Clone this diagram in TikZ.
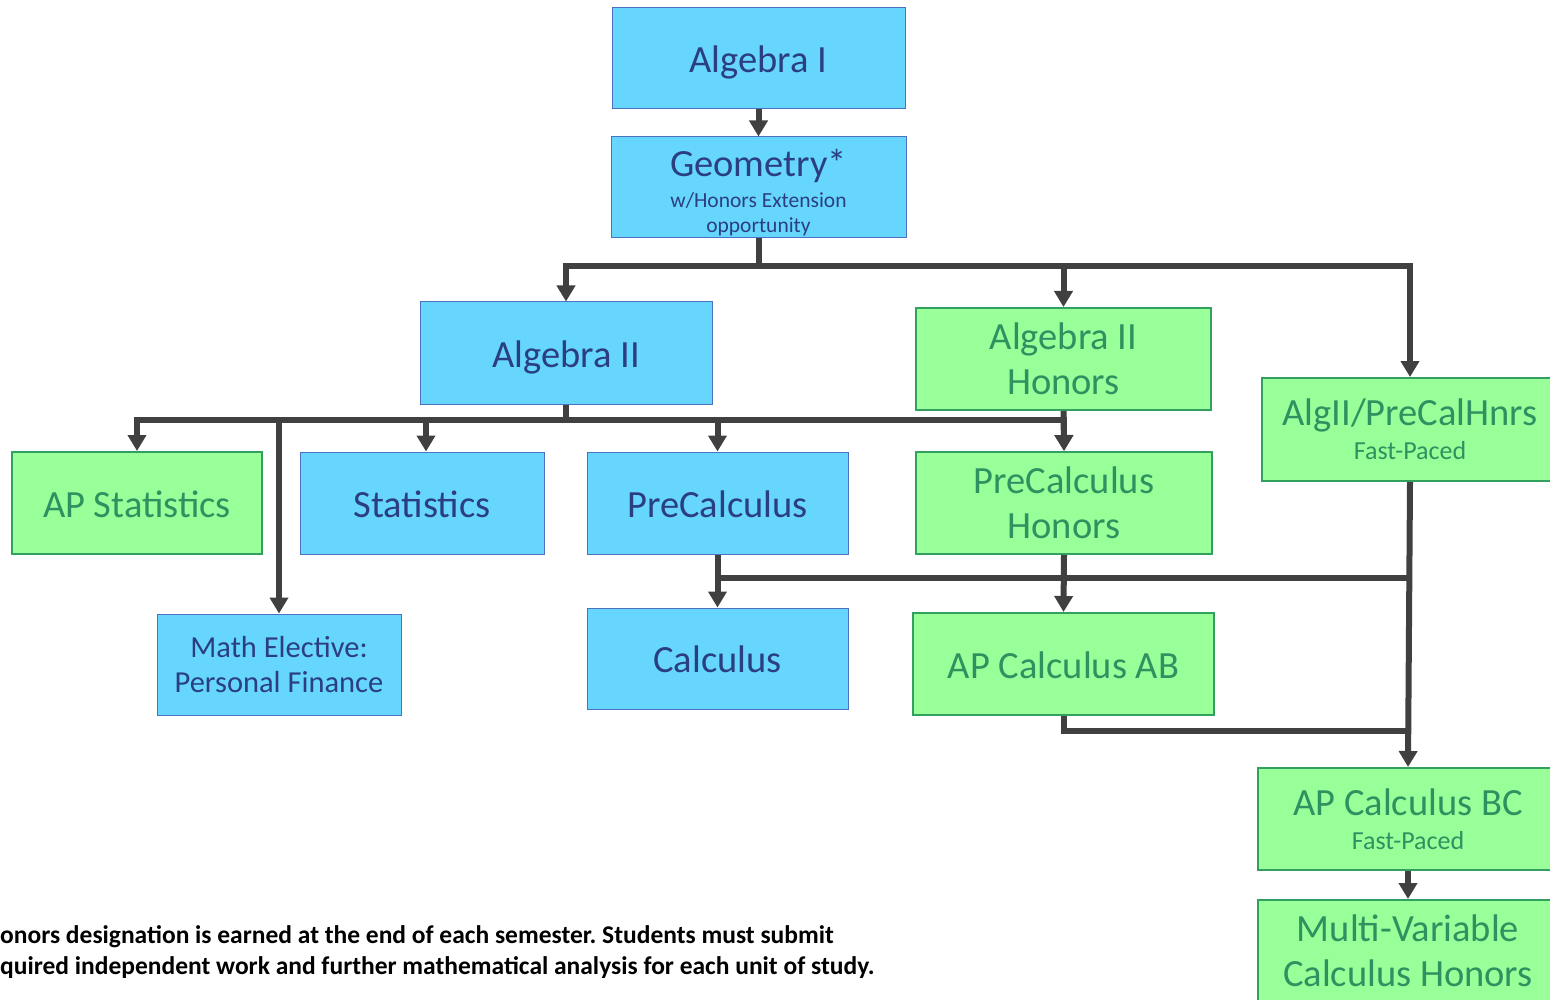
\documentclass[tikz,border=0pt]{standalone}
\usepackage{fontspec}
\setmainfont{Carlito}
\usetikzlibrary{arrows.meta}
\definecolor{bfill}{HTML}{66D6FF}
\definecolor{bdraw}{HTML}{4A72C0}
\definecolor{btext}{HTML}{2B3F80}
\definecolor{gfill}{HTML}{99FF99}
\definecolor{gdraw}{HTML}{33A060}
\definecolor{gtext}{HTML}{2E9160}
\definecolor{conn}{HTML}{404040}
\newcommand\FsBig{\fontsize{38.5}{45}\selectfont}
\newcommand\FsEl{\fontsize{30.5}{35}\selectfont}
\newcommand\FsSub{\fontsize{21.5}{25}\selectfont}
\newcommand\FsFast{\fontsize{26}{31}\selectfont}
\newcommand\FsNote{\fontsize{25.5}{31}\selectfont}
\tikzset{
  bluebox/.style={draw=bdraw, fill=bfill, line width=1pt, text=btext, inner sep=0pt, align=center},
  greenbox/.style={draw=gdraw, fill=gfill, line width=2pt, text=gtext, inner sep=0pt, align=center},
  oneline/.style={font=\FsBig, text height=28pt, text depth=0pt},
  link/.style={draw=conn, line width=6pt},
  arr/.style={link, -{Triangle[length=16pt,width=18pt]}},
  notetext/.style={anchor=base west, inner sep=0pt, font=\FsNote\bfseries\frenchspacing, text=black},
}
\begin{document}
\begin{tikzpicture}[x=1pt,y=-1pt]
\useasboundingbox (0,0) rectangle (1550,1000);
\clip (0,0) rectangle (1550,1000);
% boxes
\node[bluebox, oneline, minimum width=293, minimum height=101] (alg1) at (758.5,58.5) {Algebra I};
\node[bluebox, minimum width=295, minimum height=101, font=\FsSub] (geo) at (758.5,187.5) {{\FsBig\rule{0pt}{37pt}Geometry*}\\[6pt]w/Honors Extension\\opportunity};
\node[bluebox, oneline, minimum width=292, minimum height=102] (alg2) at (566,353) {Algebra II};
\node[greenbox, minimum width=295, minimum height=102, font=\FsBig] (alg2h) at (1063.5,359) {Algebra II\\Honors};
\node[greenbox, minimum width=296, minimum height=103, font=\FsFast] (algpre) at (1410,429.5) {{\FsBig AlgII/PreCalHnrs}\\[3pt]Fast-Paced};
\node[greenbox, oneline, minimum width=250, minimum height=102] (apstat) at (137,503) {AP Statistics};
\node[bluebox, oneline, minimum width=244, minimum height=102] (stat) at (422,503) {Statistics};
\node[bluebox, oneline, minimum width=261, minimum height=102] (precalc) at (717.5,503) {PreCalculus};
\node[greenbox, minimum width=296, minimum height=102, font=\FsBig] (precalch) at (1064,503) {PreCalculus\\Honors};
\node[bluebox, minimum width=244, minimum height=101, font=\FsEl] (mathel) at (279,664.5) {Math Elective:\\Personal Finance};
\node[bluebox, oneline, minimum width=261, minimum height=101] (calc) at (717.5,658.5) {Calculus};
\node[greenbox, oneline, minimum width=301, minimum height=102] (apcab) at (1063.5,664) {AP Calculus AB};
\node[greenbox, minimum width=300, minimum height=102, font=\FsFast] (apcbc) at (1408,819) {{\FsBig AP Calculus BC}\\[3pt]Fast-Paced};
\node[greenbox, minimum width=300, minimum height=102, font=\FsBig] (mv) at (1408,951) {Multi-Variable\\Calculus Honors};
% footnote
\node[notetext] (note1) at (0,943) {onors designation is earned at the end of each semester. Students must submit};
\node[notetext] (note2) at (0,974) {quired independent work and further mathematical analysis for each unit of study.};
% bus coordinates
\coordinate (busA) at (0,266);
\coordinate (busB) at (0,420);
\coordinate (busC) at (0,578);
\coordinate (busD) at (0,731);
% connectors
\draw[arr] (alg1.south) -- (geo.north);
\draw[arr] (geo.south) -- (geo.south |- busA) -| (alg2.north);
\draw[arr] (geo.south |- busA) -| (algpre.north);
\draw[arr] (alg2h.north |- busA) -- (alg2h.north);
\draw[arr] (alg2.south) -- (alg2.south |- busB) -| (apstat.north);
\draw[arr] (alg2.south |- busB) -| (precalch.north);
\draw[arr] (alg2h.south) -- (precalch.north);
\draw[arr] (mathel.north |- busB) -- (mathel.north);
\draw[arr] ([xshift=4pt]stat.north |- busB) -- ([xshift=4pt]stat.north);
\draw[arr] (precalc.north |- busB) -- (precalc.north);
\draw[arr] (precalc.south) -- (calc.north);
\draw[link] (precalc.south |- busC) -- (algpre.south |- busC);
\draw[arr] (precalch.south) -- (apcab.north);
\draw[arr] (algpre.south) -- (apcbc.north);
\draw[link] (apcab.south) |- (apcbc.north |- busD);
\draw[arr] (apcbc.south) -- (mv.north);
\end{tikzpicture}
\end{document}
